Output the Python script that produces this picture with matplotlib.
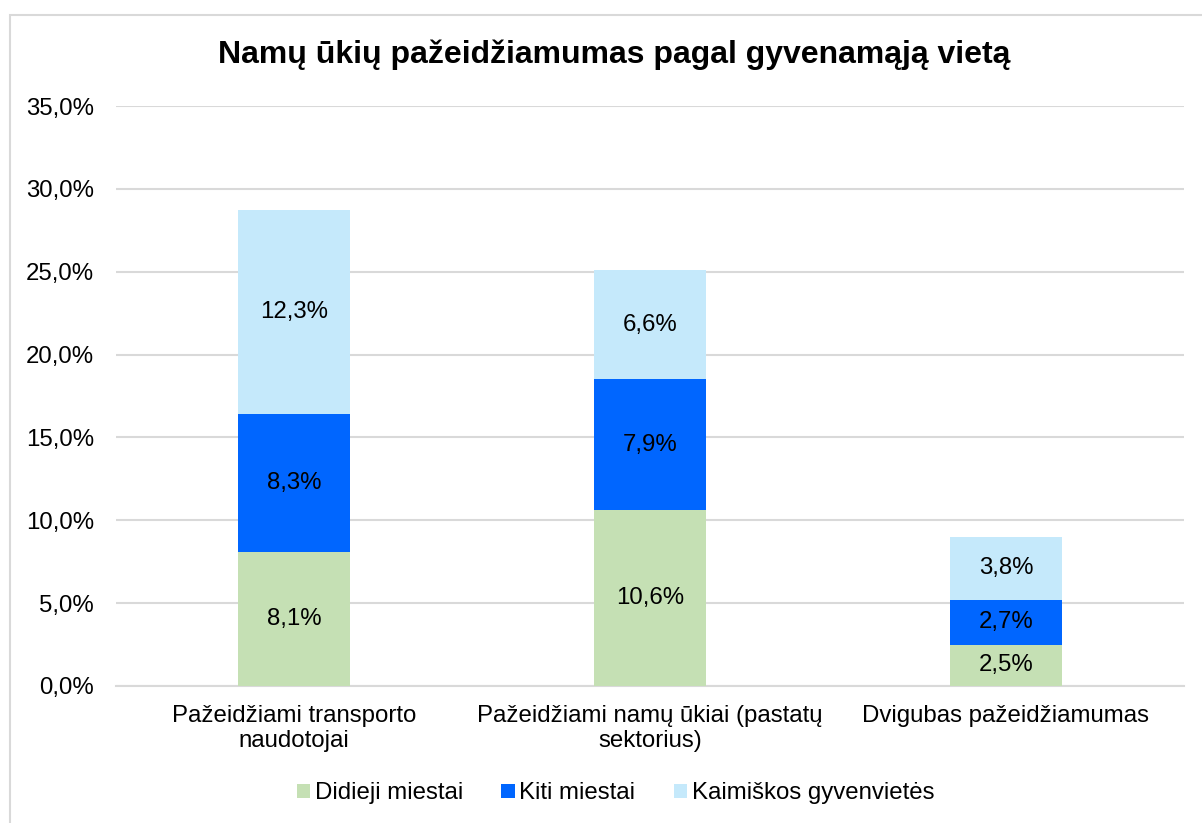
import matplotlib
matplotlib.use("Agg")
import matplotlib.pyplot as plt
from matplotlib.patches import Rectangle
import numpy as np

plt.rcParams["font.family"] = ["Liberation Sans", "DejaVu Sans"]

categories = ["Pažeidžiami transporto\nnaudotojai",
              "Pažeidžiami namų ūkiai (pastatų\nsektorius)",
              "Dvigubas pažeidžiamumas"]
series_names = ["Didieji miestai", "Kiti miestai", "Kaimiškos gyvenvietės"]
didieji = [8.1, 10.6, 2.5]
kiti = [8.3, 7.9, 2.7]
kaimiskos = [12.3, 6.6, 3.8]
colors = ["#C5E0B4", "#0066FF", "#C5E9FB"]
yticks = [0, 5, 10, 15, 20, 25, 30, 35]


def fmt(v):
    return f"{v:.1f}%".replace(".", ",")


fig = plt.figure(figsize=(12.02, 8.23), dpi=100)
ax = fig.add_axes([0.0965, 0.1665, 0.8885, 0.7047])

# chart border (cut by the image edges)
fig.patches.append(Rectangle((10 / 1202, -0.1), 1.2, 1 - 15 / 823 + 0.1,
                             transform=fig.transFigure, fill=False,
                             edgecolor="#D9D9D9", linewidth=1.5))

x = np.arange(len(categories))
bottom = np.zeros(len(categories))
for name, vals, c in zip(series_names, [didieji, kiti, kaimiskos], colors):
    bars = ax.bar(x, vals, width=0.315, bottom=bottom, color=c, label=name, zorder=3)
    for b, v in zip(bars, vals):
        ax.text(b.get_x() + b.get_width() / 2, b.get_y() + v / 2, fmt(v),
                ha="center", va="center", fontsize=17.3, color="black", zorder=4)
    bottom += np.array(vals)

ax.set_xlim(-0.5, len(categories) - 0.5)
ax.set_ylim(0, 35)
ax.set_yticks(yticks)
ax.set_yticklabels([fmt(t) for t in yticks], fontsize=17.3)
ax.set_xticks(x)
ax.set_xticklabels(categories, fontsize=17.3, linespacing=1.15)
ax.tick_params(axis="x", length=0, pad=14)
ax.tick_params(axis="y", length=0, pad=16)
ax.grid(axis="y", color="#D9D9D9", linewidth=1.5, zorder=0)
for s in ["top", "right", "left"]:
    ax.spines[s].set_visible(False)
ax.spines["bottom"].set_color("#D9D9D9")
ax.spines["bottom"].set_linewidth(1.5)

fig.text(0.511, 0.933, "Namų ūkių pažeidžiamumas pagal gyvenamąją vietą",
         ha="center", va="center", fontsize=23, fontweight="bold")

fig.legend(loc="center", bbox_to_anchor=(0.512, 0.036), ncol=3, frameon=False,
           fontsize=17.3, handlelength=0.55, handleheight=0.55, handletextpad=0.2,
           columnspacing=1.6)

fig.savefig("out.png", dpi=100)
